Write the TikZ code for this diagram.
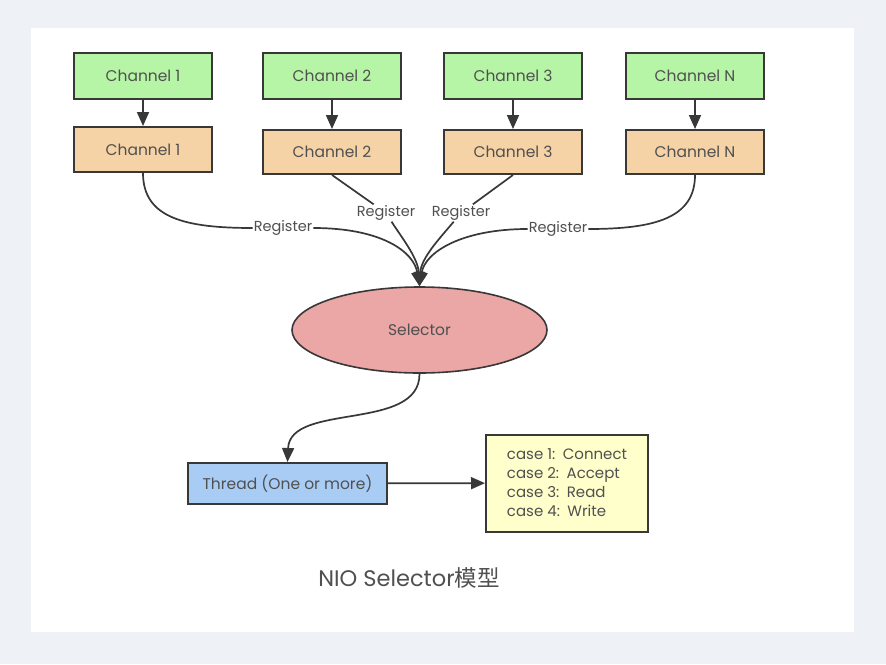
\documentclass[tikz,border=0pt]{standalone}
\usepackage{fontspec}
\setmainfont{Poppins}
\newfontfamily\cjk{Noto Sans CJK SC}
\usetikzlibrary{arrows.meta,shapes.geometric}
\definecolor{outerbg}{HTML}{EEF2F7}
\definecolor{gfill}{HTML}{B6F5A6}
\definecolor{ofill}{HTML}{F5D3A6}
\definecolor{pfill}{HTML}{EBA6A6}
\definecolor{bfill}{HTML}{A9CCF5}
\definecolor{yfill}{HTML}{FFFFCC}
\definecolor{edge}{HTML}{383838}
\definecolor{txt}{HTML}{505050}
\tikzset{
  box/.style={draw=edge, line width=2pt, rectangle, inner sep=0pt, text=txt,
    font=\fontsize{15.5}{18}\selectfont},
  gbox/.style={box, fill=gfill, minimum width=138pt, minimum height=46pt},
  obox/.style={box, fill=ofill, minimum width=138pt, minimum height=44pt},
  selnode/.style={draw=edge, line width=1.6pt, ellipse, fill=pfill, inner sep=0pt,
    minimum width=255pt, minimum height=86pt, text=txt, font=\fontsize{15.5}{18}\selectfont},
  thbox/.style={box, fill=bfill, minimum width=199pt, minimum height=41pt},
  casebox/.style={box, fill=yfill, minimum width=162pt, minimum height=97pt, align=left,
    font=\fontsize{15}{19}\selectfont},
  reg/.style={fill=white, inner sep=1pt, text=txt, font=\fontsize{14.5}{16}\selectfont},
  link/.style={draw=edge, line width=1.7pt},
  arr/.style={link, -{Triangle[length=14pt,width=12pt]}},
}
\begin{document}
\begin{tikzpicture}[x=1pt,y=-1pt]
\useasboundingbox (0,0) rectangle (886,664);
\fill[outerbg] (0,0) rectangle (886,664);
\fill[white] (31,28) rectangle (854,632);

\node[gbox] (g1) at (143,76) {Channel 1};
\node[gbox] (g2) at (332,76) {Channel 2};
\node[gbox] (g3) at (513,76) {Channel 3};
\node[gbox] (gN) at (695,76) {Channel N};

\node[obox, minimum height=45pt] (o1) at (143,149.5) {Channel 1};
\node[obox] (o2) at (332,152) {Channel 2};
\node[obox] (o3) at (513,152) {Channel 3};
\node[obox] (oN) at (695,152) {Channel N};

\draw[arr] (g1) -- (o1);
\draw[arr] (g2) -- (o2);
\draw[arr] (g3) -- (o3);
\draw[arr] (gN) -- (oN);

\node[selnode] (sel) at (419.5,330) {Selector};

\node[reg] (r1) at (283,228) {Register};
\node[reg] (r2) at (386,213) {Register};
\node[reg] (r3) at (461,213) {Register};
\node[reg] (rN) at (558,229) {Register};

\draw[link] (o1.south) .. controls (143,218) and (185,228) .. (r1);
\draw[arr] (r1) .. controls (382,228) and (414,252) .. (sel.north);
\draw[link] (o2.south) -- (r2);
\draw[arr] (r2) .. controls (402,238) and (418,258) .. (sel.north);
\draw[link] (o3.south) -- (r3);
\draw[arr] (r3) .. controls (440,238) and (421,258) .. (sel.north);
\draw[link] (oN.south) .. controls (695,218) and (655,229) .. (rN);
\draw[arr] (rN) .. controls (462,229) and (425,252) .. (sel.north);

\node[thbox] (th) at (287.5,483.5) {Thread (One or more)};
\node[casebox] (cs) at (567,483) {case 1:\enspace Connect\\case 2:\enspace Accept\\case 3:\enspace Read\\case 4:\enspace Write};

\draw[arr] (sel.south) .. controls (420,432) and (290,402) .. (th.north);
\draw[arr] (th) -- (cs);

\node[text=txt, font=\fontsize{22.5}{26}\selectfont] (cap) at (409,578) {NIO Selector{\cjk 模型}};
\end{tikzpicture}
\end{document}
